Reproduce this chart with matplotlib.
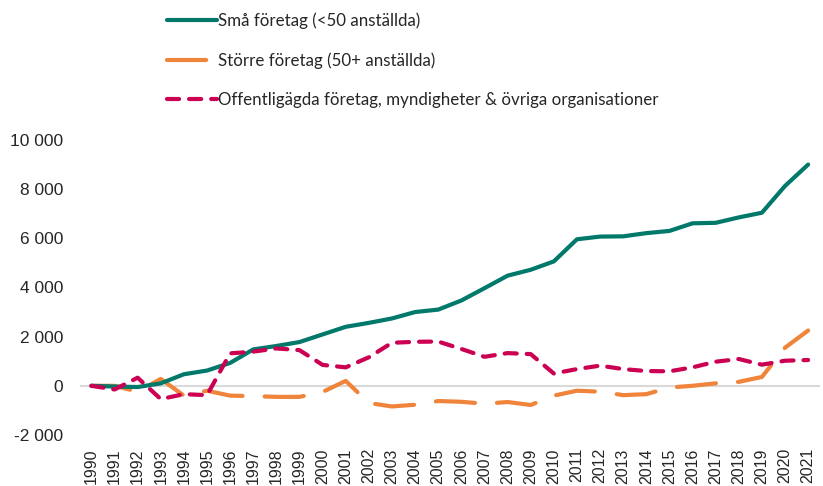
import numpy as np
import matplotlib
matplotlib.use("Agg")
import matplotlib.pyplot as plt

years = list(range(1990, 2022))

small = [0, -30, -50, 100, 470, 620, 930, 1480, 1620, 1780, 2090, 2400,
         2560, 2740, 3000, 3100, 3470, 3970, 4480, 4720, 5060, 5960,
         6070, 6080, 6210, 6300, 6610, 6630, 6850, 7040, 8130, 9000]
large = [0, 0, -240, 280, -400, -200, -400, -420, -450, -450, -250, 200,
         -700, -840, -770, -620, -650, -730, -660, -780, -400, -200,
         -240, -380, -340, -70, 0, 100, 160, 360, 1550, 2250]
public = [0, -150, 330, -540, -340, -380, 1320, 1390, 1520, 1450, 850, 750,
          1160, 1750, 1790, 1800, 1500, 1180, 1330, 1290, 500, 680,
          820, 680, 600, 590, 750, 980, 1090, 860, 1020, 1050]

labels = ["Små företag (<50 anställda)",
          "Större företag (50+ anställda)",
          "Offentligägda företag, myndigheter & övriga organisationer"]

green = "#00796B"
orange = "#F0843A"
red = "#CC0052"

fig = plt.figure(figsize=(8.23, 4.86), dpi=100)
ax = fig.add_axes([0.097, 0.105, 0.899, 0.607])

ax.axhline(0, color="#D9D9D9", lw=1.5, zorder=1)

lw = 3
ax.plot(years, small, color=green, lw=lw, solid_capstyle="round",
        label=labels[0], zorder=3)
l2, = ax.plot(years, large, color=orange, lw=lw, dash_capstyle="round",
              label=labels[1], zorder=2)
l2.set_dashes((9.4, 5.3))
l3, = ax.plot(years, public, color=red, lw=lw, dash_capstyle="round",
              label=labels[2], zorder=4)
l3.set_dashes((2.9, 2.4))

ax.set_xlim(1989.5, 2021.5)
ax.set_ylim(-2000, 10000)
ax.set_xticks(years)
ax.set_xticklabels([str(y) for y in years], rotation=90,
                   family="Liberation Sans", fontsize=11.5, color="#262626")
yt = list(range(-2000, 10001, 2000))
ax.set_yticks(yt)
ax.set_yticklabels([f"{v:,}".replace(",", " ") for v in yt],
                   family="Liberation Sans", fontsize=12.5, color="#262626")
ax.tick_params(axis="x", length=0, pad=9.5)
ax.tick_params(axis="y", length=0, pad=12)
for s in ax.spines.values():
    s.set_visible(False)

fig.legend(loc="upper left", bbox_to_anchor=(167 / 823, 0.974),
           frameon=False, borderpad=0, borderaxespad=0,
           handlelength=2.95, handletextpad=0.05, labelspacing=1.35,
           prop={"family": "Lato", "size": 12.2}, labelcolor="#262626")

fig.savefig("out.png", dpi=100)
